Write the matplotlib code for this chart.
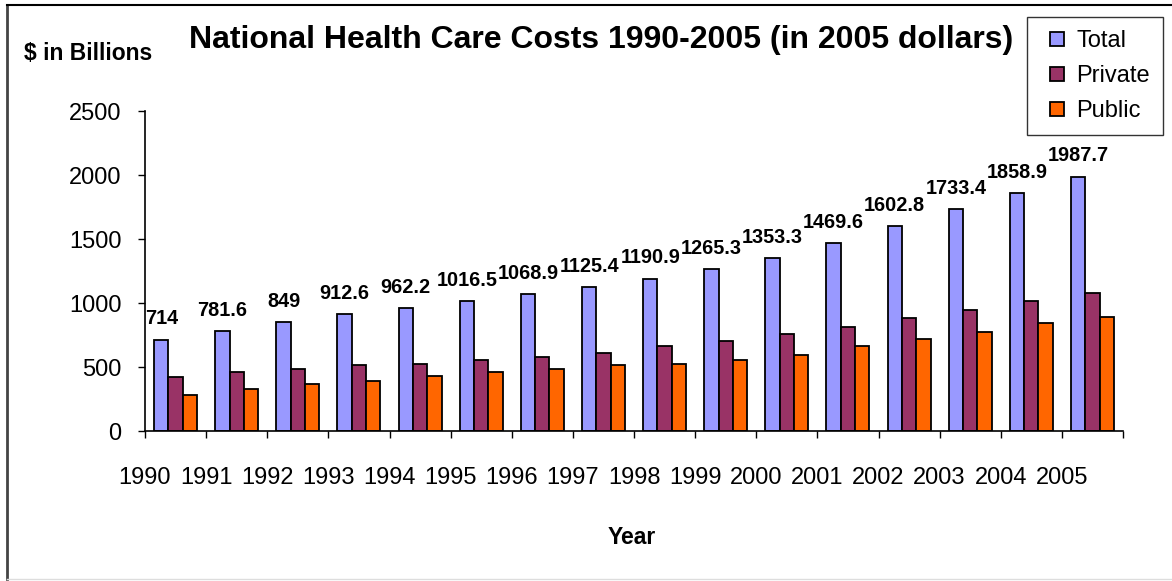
import numpy as np
import matplotlib.pyplot as plt
from matplotlib.lines import Line2D

plt.rcParams['font.family'] = ['Liberation Sans', 'DejaVu Sans']

# dane
years = ['1990', '1991', '1992', '1993', '1994', '1995', '1996', '1997',
         '1998', '1999', '2000', '2001', '2002', '2003', '2004', '2005']
total = [714, 781.6, 849, 912.6, 962.2, 1016.5, 1068.9, 1125.4,
         1190.9, 1265.3, 1353.3, 1469.6, 1602.8, 1733.4, 1858.9, 1987.7]
private = [420, 461, 488, 513, 526, 558, 581, 609,
           661, 705, 757, 809, 879, 947, 1014, 1081]
public = [285, 327, 366, 394, 433, 461, 488, 513,
          526, 555, 594, 661, 716, 773, 840, 889]
total_labels = ['714', '781.6', '849', '912.6', '962.2', '1016.5', '1068.9', '1125.4',
                '1190.9', '1265.3', '1353.3', '1469.6', '1602.8', '1733.4', '1858.9', '1987.7']

c_total = '#9999FF'
c_private = '#993366'
c_public = '#FF6600'

W, H = 1172, 581
fig = plt.figure(figsize=(W / 100, H / 100), dpi=100)
ax = fig.add_axes([145 / W, (H - 431) / H, 978 / W, 320 / H])

x = np.arange(len(years)) + 0.5
w = 0.234
kw = dict(width=w, edgecolor='black', linewidth=1.3)
ax.bar(x - w, total, color=c_total, label='Total', **kw)
ax.bar(x, private, color=c_private, label='Private', **kw)
ax.bar(x + w, public, color=c_public, label='Public', **kw)

for xi, v, s in zip(x - w, total, total_labels):
    ax.annotate(s, (xi, v), xytext=(0, 8), textcoords='offset points',
                ha='center', va='bottom', fontsize=14.3, fontweight='bold')

ax.set_xlim(0, len(years))
ax.set_ylim(0, 2500)
ax.set_yticks(range(0, 2501, 500))
ax.set_xticks(np.arange(len(years) + 1))
ax.set_xticklabels(years + [''])
ax.tick_params(axis='x', direction='out', length=5, width=1, pad=21, labelsize=17)
ax.tick_params(axis='y', direction='out', length=5, width=1, pad=12, labelsize=17)
for s in ['top', 'right']:
    ax.spines[s].set_visible(False)
for s in ['left', 'bottom']:
    ax.spines[s].set_linewidth(1.2)

fig.text(601 / W, 1 - 40 / H, 'National Health Care Costs 1990-2005 (in 2005 dollars)',
         ha='center', va='center', fontsize=23, fontweight='bold')
fig.text(88 / W, 1 - 54 / H, '$ in Billions', ha='center', va='center',
         fontsize=16.5, fontweight='bold')
fig.text(632 / W, 1 - 537 / H, 'Year', ha='center', va='center',
         fontsize=16.5, fontweight='bold')

handles = [Line2D([], [], linestyle='none', marker='s', markersize=9.5,
                  markerfacecolor=c, markeredgecolor='black', markeredgewidth=1.3)
           for c in (c_total, c_private, c_public)]
leg = fig.legend(handles, ['Total', 'Private', 'Public'],
                 loc='upper left', bbox_to_anchor=(1027 / W, 1 - 17 / H),
                 fontsize=17, frameon=True, fancybox=False, edgecolor='black',
                 handlelength=1.4, handletextpad=0.15,
                 labelspacing=0.55, borderpad=0.55, borderaxespad=0)
leg.get_frame().set_linewidth(1)

# ramka wykresu
fig.add_artist(Line2D([7 / W, 7 / W], [0.003, 1 - 5 / H], color='#444444', lw=2,
                      transform=fig.transFigure))
fig.add_artist(Line2D([7 / W, 1], [1 - 5 / H, 1 - 5 / H], color='black', lw=1.5,
                      transform=fig.transFigure))
fig.add_artist(Line2D([7 / W, 1], [1 - 579 / H, 1 - 579 / H], color='#dddddd', lw=1,
                      transform=fig.transFigure))

fig.savefig('out.png', dpi=100)
